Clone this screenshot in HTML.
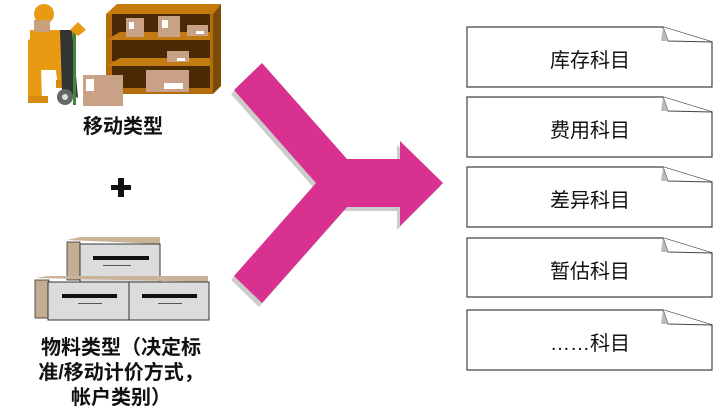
<!DOCTYPE html>
<html><head><meta charset="utf-8"><style>
body{margin:0;width:720px;height:408px;background:#fff;overflow:hidden;position:relative;font-family:"Liberation Sans","Noto Sans CJK SC",sans-serif}
.t{position:absolute;font-weight:bold;color:#111;font-size:20px;line-height:25px;text-align:center}
.b{position:absolute;font-size:20px;color:#111;text-align:center;width:246px;left:467px}
</style></head><body>
<svg width="720" height="408" style="position:absolute;left:0;top:0">
<polygon points="106,14 117,4 221,4 213,14" fill="#c77a0c"/>
<polygon points="213,14 221,4 221,86 213,94" fill="#7a4a06"/>
<rect x="106" y="14" width="107" height="80" fill="#b36d0b"/>
<rect x="112" y="14" width="98" height="22" fill="#4a2a04"/>
<rect x="112" y="40" width="98" height="21" fill="#4a2a04"/>
<rect x="112" y="66" width="98" height="22" fill="#4a2a04"/>
<polygon points="106,40 120,32 210,32 210,40" fill="#c47a12"/>
<polygon points="106,66 120,58 210,58 210,66" fill="#c47a12"/>
<rect x="126" y="18" width="18" height="19" fill="#c9a186"/><rect x="129" y="22" width="5" height="7" fill="#fff"/>
<rect x="158" y="16" width="22" height="21" fill="#c9a186"/><rect x="162" y="20" width="6" height="8" fill="#fff"/>
<rect x="187" y="25" width="21" height="11" fill="#c9a186"/><rect x="196" y="31" width="8" height="3" fill="#fff"/>
<rect x="167" y="51" width="22" height="11" fill="#c9a186"/><rect x="177" y="58" width="8" height="3" fill="#fff"/>
<rect x="146" y="70" width="43" height="22" fill="#c9a186"/><rect x="164" y="83" width="19" height="6" fill="#fff"/>
<rect x="30" y="30" width="45" height="40" fill="#e79a12"/>
<circle cx="44" cy="14" r="10" fill="#e79a12"/>
<rect x="34" y="20" width="16" height="12" fill="#c8a07a"/>
<polygon points="28,40 40,35 42,100 28,100" fill="#e79a12"/>
<polygon points="45,55 70,55 72,85 58,85 55,65 45,65" fill="#e79a12"/>
<rect x="56" y="80" width="20" height="8" fill="#d98a10"/>
<rect x="28" y="96" width="20" height="7" fill="#d98a10"/>
<polygon points="60,30 72,30 78,98 62,90" fill="#333"/>
<rect x="73" y="30" width="3" height="75" fill="#3a8a3a"/>
<circle cx="65" cy="97" r="8" fill="#666"/><circle cx="65" cy="97" r="3" fill="#ddd"/>
<polygon points="70,30 78,22 86,30 78,36" fill="#e79a12"/>
<rect x="83" y="75" width="40" height="31" fill="#c9a186"/>
<rect x="86" y="79" width="8" height="12" fill="#fff"/>
<polygon points="67,240 80,237 160,237 160,244" fill="#c9b49a"/>
<rect x="67" y="242" width="13" height="38" fill="#c4ae93" stroke="#333" stroke-width="0.8"/>
<rect x="80" y="244" width="80" height="38" fill="#dcdcdc" stroke="#333" stroke-width="1"/>
<rect x="93" y="256" width="56" height="4" fill="#111"/><rect x="103" y="265" width="28" height="1" fill="#555"/>
<polygon points="35,278 48,276 208,276 208,282" fill="#c9b49a"/>
<rect x="35" y="280" width="14" height="38" fill="#c4ae93" stroke="#333" stroke-width="0.8"/>
<rect x="48" y="282" width="81" height="38" fill="#dcdcdc" stroke="#333" stroke-width="1"/>
<rect x="129" y="282" width="80" height="38" fill="#dcdcdc" stroke="#333" stroke-width="1"/>
<rect x="62" y="294" width="55" height="4" fill="#111"/><rect x="78" y="303" width="24" height="1" fill="#555"/>
<rect x="142" y="294" width="55" height="4" fill="#111"/><rect x="158" y="303" width="24" height="1" fill="#555"/>
<rect x="111" y="185" width="20" height="5" fill="#111"/><rect x="118" y="178" width="6" height="19" fill="#111"/>
<polygon transform="translate(-3,4)" points="262,63 347,159 400,159 400,141 443,183 400,226 400,207 347,207 262,303 234,276 316,183 234,90" fill="#cccccc"/>
<polygon points="262,63 347,159 400,159 400,141 443,183 400,226 400,207 347,207 262,303 234,276 316,183 234,90" fill="#d93190"/>
<g stroke="#444" stroke-width="1.2" fill="#fff">
<path d="M467,27 H663 L712,42 V87 H467 Z"/>
<path d="M467,97 H663 L712,112 V157 H467 Z"/>
<path d="M467,167 H663 L712,182 V227 H467 Z"/>
<path d="M467,238 H663 L712,253 V297 H467 Z"/>
<path d="M467,310 H663 L712,325 V370 H467 Z"/>
</g>
<g stroke="#444" stroke-width="1" fill="#fff">
<path d="M663,27 L668,41 L712,42"/><path d="M663,97 L668,111 L712,112"/>
<path d="M663,167 L668,181 L712,182"/><path d="M663,238 L668,252 L712,253"/>
<path d="M663,310 L668,324 L712,325"/>
</g>
<g fill="#bbb"><polygon points="663,27 668,41 661,41"/><polygon points="663,97 668,111 661,111"/><polygon points="663,167 668,181 661,181"/><polygon points="663,238 668,252 661,252"/><polygon points="663,310 668,324 661,324"/></g>
</svg>
<div class="t" style="left:20px;width:206px;top:115px">移动类型</div>
<div class="t" style="left:0px;width:242px;top:336px">物料类型（决定标<br>准/移动计价方式，<br>帐户类别）</div>
<div class="b" style="top:44px">库存科目</div>
<div class="b" style="top:114px">费用科目</div>
<div class="b" style="top:184px">差异科目</div>
<div class="b" style="top:255px">暂估科目</div>
<div class="b" style="top:327px">……科目</div>
</body></html>
